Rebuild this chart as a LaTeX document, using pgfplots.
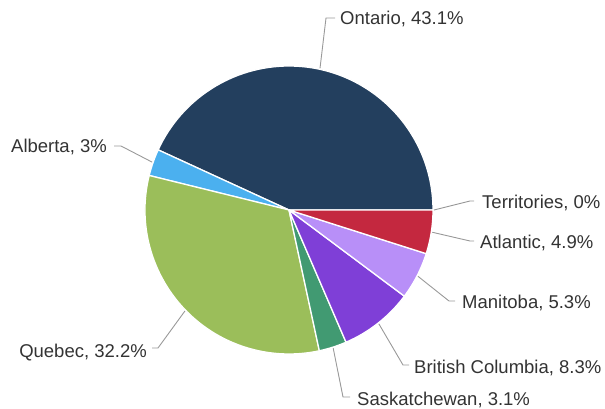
\documentclass[border=0pt]{standalone}
\usepackage{pgfplots}
\usepackage{pgfplotstable}
\pgfplotsset{compat=1.18}
\usetikzlibrary{calc}
\usepackage{fontspec}
\setmainfont{Liberation Sans}

\definecolor{ontario}{HTML}{233F5E}
\definecolor{alberta}{HTML}{4BB0EF}
\definecolor{quebec}{HTML}{9BBE5A}
\definecolor{sask}{HTML}{419A72}
\definecolor{bc}{HTML}{7F3FD7}
\definecolor{manitoba}{HTML}{B88FF8}
\definecolor{atlantic}{HTML}{C4283F}
\definecolor{territories}{HTML}{2F6FB0}
\definecolor{conn}{HTML}{999999}

% pixel coordinates (y down): knee of connector, end of connector, text anchor
\pgfplotstableread[col sep=comma]{
name,value,col,kx,ky,ex,tx,ty,side
Ontario,43.1,ontario,326,18,335,340,25,base west
Alberta,3,alberta,121,146,114,107,153,base east
Quebec,32.2,quebec,158,348,152,147,357,base east
Saskatchewan,3.1,sask,343,397,350,357,405.5,base west
British Columbia,8.3,bc,403,365,409,414,373.5,base west
Manitoba,5.3,manitoba,449,301,455,462,308.5,base west
Atlantic,4.9,atlantic,470,241,474,480,248.5,base west
Territories,0,territories,470,201,474,482,208.5,base west
}\pietable

\begin{document}
\begin{tikzpicture}
\path[use as bounding box] (0,0) rectangle (605pt,409pt);
\begin{axis}[
    at={(0,0)}, anchor=south west,
    scale only axis, width=605pt, height=409pt,
    xmin=0, xmax=605, ymin=0, ymax=409, y dir=reverse,
    hide axis, clip=false,
]
\pgfplotsextra{
  \fontsize{18.5}{22}\selectfont
  \pgfplotstablegetrowsof{\pietable}
  \pgfmathtruncatemacro\lastrow{\pgfplotsretval-1}
  \gdef\pietotal{0}
  \foreach \i in {0,...,\lastrow}{
    \pgfplotstablegetelem{\i}{value}\of\pietable
    \pgfmathsetmacro\tmpsum{\pietotal+\pgfplotsretval}
    \xdef\pietotal{\tmpsum}
  }
  \gdef\pieangle{0}
  \foreach \i in {0,...,\lastrow}{
    \pgfplotstablegetelem{\i}{value}\of\pietable \let\pval\pgfplotsretval
    \pgfplotstablegetelem{\i}{name}\of\pietable \let\pname\pgfplotsretval
    \pgfplotstablegetelem{\i}{col}\of\pietable \let\pcol\pgfplotsretval
    \pgfplotstablegetelem{\i}{kx}\of\pietable \let\pkx\pgfplotsretval
    \pgfplotstablegetelem{\i}{ky}\of\pietable \let\pky\pgfplotsretval
    \pgfplotstablegetelem{\i}{ex}\of\pietable \let\pex\pgfplotsretval
    \pgfplotstablegetelem{\i}{tx}\of\pietable \let\ptx\pgfplotsretval
    \pgfplotstablegetelem{\i}{ty}\of\pietable \let\pty\pgfplotsretval
    \pgfplotstablegetelem{\i}{side}\of\pietable \let\pside\pgfplotsretval
    \pgfmathsetmacro\pa{\pieangle}
    \pgfmathsetmacro\pb{\pieangle+360*\pval/\pietotal}
    \pgfmathsetmacro\pm{(\pa+\pb)/2}
    \ifdim\pval pt>0pt
      \filldraw[fill=\pcol, draw=white, line width=1.3pt, line join=round]
        (axis cs:289,210) -- ++(\pa:144pt)
        arc[start angle=\pa, end angle=\pb, radius=144pt] -- cycle;
    \fi
    \draw[conn, line width=0.9pt]
      ($(axis cs:289,210)+(\pm:145pt)$) -- (axis cs:\pkx,\pky) -- (axis cs:\pex,\pky);
    \node[anchor=\pside, inner sep=0pt, text=black!80] at (axis cs:\ptx,\pty) {\pname, \pval\%};
    \xdef\pieangle{\pb}
  }
}
\end{axis}
\end{tikzpicture}
\end{document}
